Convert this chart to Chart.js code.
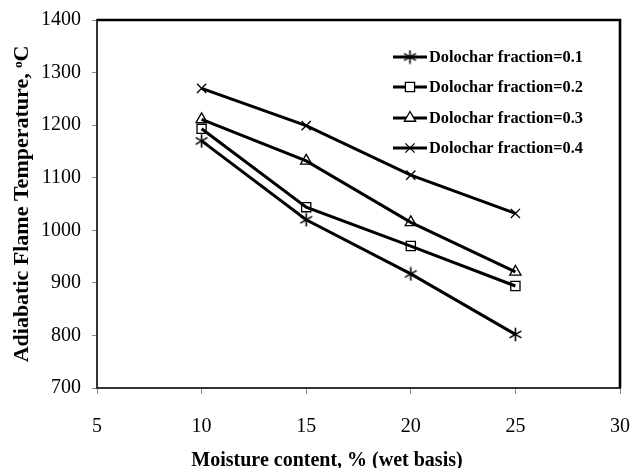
<!DOCTYPE html>
<html><head><meta charset="utf-8">
<script src="https://cdn.jsdelivr.net/npm/chart.js@4/dist/chart.umd.min.js"></script>
<style>html,body{margin:0;padding:0;background:#fff}#wrap{width:633px;height:468px}</style>
</head><body><div id="wrap"><canvas id="c" width="633" height="468"></canvas></div>
<script>
const moisture = [10, 15, 20, 25];
const seriesLabels = ['Dolochar fraction=0.1','Dolochar fraction=0.2','Dolochar fraction=0.3','Dolochar fraction=0.4'];
const frac01 = [1170, 1020, 917, 802];
const frac02 = [1193, 1044, 970, 894];
const frac03 = [1211, 1132, 1015, 921];
const frac04 = [1270, 1199, 1105, 1032];
const xTicks = [5, 10, 15, 20, 25, 30];
const yTicks = [700, 800, 900, 1000, 1100, 1200, 1300, 1400];
const xTitle = 'Moisture content, % (wet basis)';
const yTitle = 'Adiabatic Flame Temperature, ᵒC';

// six-spoke asterisk marker
function asterisk() {
  const c = document.createElement('canvas');
  c.width = 15; c.height = 15;
  const g = c.getContext('2d');
  g.strokeStyle = '#000'; g.lineWidth = 1.6;
  const r = 6.8, cx = 7.5, cy = 7.5;
  [90, 30, 150].forEach(a => {
    const rad = a * Math.PI / 180, dx = r * Math.cos(rad), dy = r * Math.sin(rad);
    g.beginPath(); g.moveTo(cx - dx, cy - dy); g.lineTo(cx + dx, cy + dy); g.stroke();
  });
  return c;
}
const styles = [asterisk(), 'rect', 'triangle', 'crossRot'];
const allVals = [frac01, frac02, frac03, frac04];
const datasets = allVals.map((vals, i) => ({
  label: seriesLabels[i],
  data: moisture.map((m, j) => ({x: m, y: vals[j]})),
  borderColor: '#000', borderWidth: 3,
  pointStyle: styles[i], pointRadius: 6.5, pointBorderWidth: 1.3,
  pointBackgroundColor: 'rgba(255,255,255,0)', pointBorderColor: '#000',
  tension: 0, fill: false
}));

const frame = {
  id: 'frame',
  afterDraw(chart) {
    const {ctx, chartArea: a} = chart;
    ctx.save();
    ctx.strokeStyle = '#000'; ctx.lineWidth = 2.6;
    ctx.beginPath();
    ctx.moveTo(a.left, a.top); ctx.lineTo(a.right, a.top); ctx.lineTo(a.right, a.bottom);
    ctx.stroke();
    // legend inside the plot area
    const ys = [57, 87, 118, 148];
    ctx.font = 'bold 17px "Liberation Serif"';
    ctx.textBaseline = 'middle'; ctx.textAlign = 'left'; ctx.fillStyle = '#000';
    chart.data.datasets.forEach((ds, i) => {
      const y = ys[i];
      ctx.lineWidth = 3; ctx.strokeStyle = '#000';
      ctx.beginPath(); ctx.moveTo(393, y); ctx.lineTo(427, y); ctx.stroke();
      ctx.lineWidth = 1.3; ctx.fillStyle = '#fff';
      Chart.helpers.drawPoint(ctx, {pointStyle: ds.pointStyle, radius: 6.5, borderWidth: 1.3}, 410, y);
      ctx.fillStyle = '#000';
      const w = ctx.measureText(ds.label).width;
      const sx = Math.min(1, 154 / w);
      ctx.save(); ctx.translate(429, y + 1); ctx.scale(sx, 1);
      ctx.fillText(ds.label, 0, 0); ctx.restore();
    });
    // x-axis title
    ctx.font = 'bold 20px "Liberation Serif"';
    ctx.textAlign = 'center'; ctx.textBaseline = 'alphabetic';
    ctx.fillText(xTitle, 327, 466);
    ctx.restore();
  }
};

new Chart(document.getElementById('c'), {
  type: 'line',
  data: {datasets},
  plugins: [frame],
  options: {
    responsive: false, animation: false, devicePixelRatio: 1,
    layout: {padding: {left: 0, right: 13, top: 20, bottom: 0}},
    plugins: {legend: {display: false}, tooltip: {enabled: false}},
    scales: {
      x: {
        type: 'linear', min: 5, max: 30,
        afterBuildTicks: s => { s.ticks = xTicks.map(v => ({value: v})); },
        afterFit: s => { s.height = 80; s.paddingLeft = 0; s.paddingRight = 0; },
        grid: {drawOnChartArea: false, drawTicks: true, tickLength: 6, color: '#888'},
        border: {color: '#333', width: 2},
        ticks: {color: '#000', font: {family: '"Liberation Serif"', size: 20}, padding: 21, maxRotation: 0},
        title: {display: false, text: xTitle}
      },
      y: {
        type: 'linear', min: 700, max: 1400,
        afterBuildTicks: s => { s.ticks = yTicks.map(v => ({value: v})); },
        afterFit: s => { s.width = 97; s.paddingTop = 0; s.paddingBottom = 0; },
        grid: {drawOnChartArea: false, drawTicks: true, tickLength: 5, color: '#888'},
        border: {color: '#333', width: 2},
        ticks: {color: '#000', font: {family: '"Liberation Serif"', size: 20}, padding: 11,
          callback: v => String(v)},
        title: {display: true, text: yTitle, color: '#000',
          font: {family: '"Liberation Serif"', size: 22, weight: 'bold'}, padding: {top: 9, bottom: 0}}
      }
    }
  }
});
</script></body></html>
